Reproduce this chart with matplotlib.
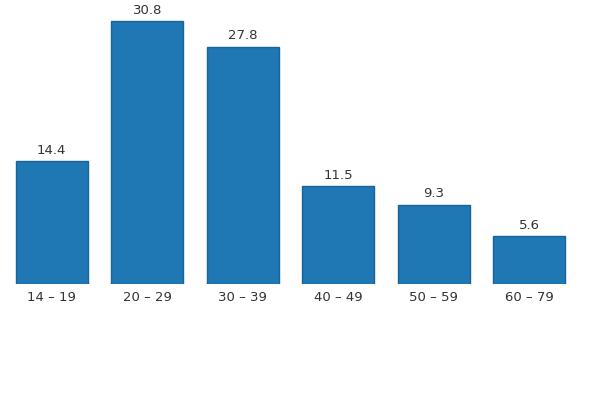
import matplotlib
matplotlib.use('Agg')
import matplotlib.pyplot as plt

## Data ##
age_groups = ['14 – 19', '20 – 29', '30 – 39', '40 – 49', '50 – 59', '60 – 79']
shares = [14.4, 30.8, 27.8, 11.5, 9.3, 5.6]

fig = plt.figure(figsize=(6, 4), dpi=100)
# axes placed in pixel terms: x 4..577, baseline at y=284 (from top)
ax = fig.add_axes([4 / 600, (400 - 284) / 400, 573 / 600, (284 - 10) / 400])

x = list(range(len(shares)))
bars = ax.bar(x, shares, width=0.755, color='#1f77b4', edgecolor='#17649a', linewidth=1)

# value labels above bars
for xi, v in zip(x, shares):
    ax.annotate(f"{v}", xy=(xi, v), xytext=(0, 3), textcoords='offset points',
                ha='center', va='bottom', fontsize=9.5, color='#333333')

ax.set_xlim(-0.5, len(shares) - 0.5)
ax.set_ylim(0, 30.8 * 274 / 263)
ax.set_xticks(x)
ax.set_xticklabels(age_groups, fontsize=9.5, color='#333333')
ax.tick_params(axis='x', length=0, pad=5)
ax.set_yticks([])
for s in ax.spines.values():
    s.set_visible(False)

fig.savefig('out.png', dpi=100)
